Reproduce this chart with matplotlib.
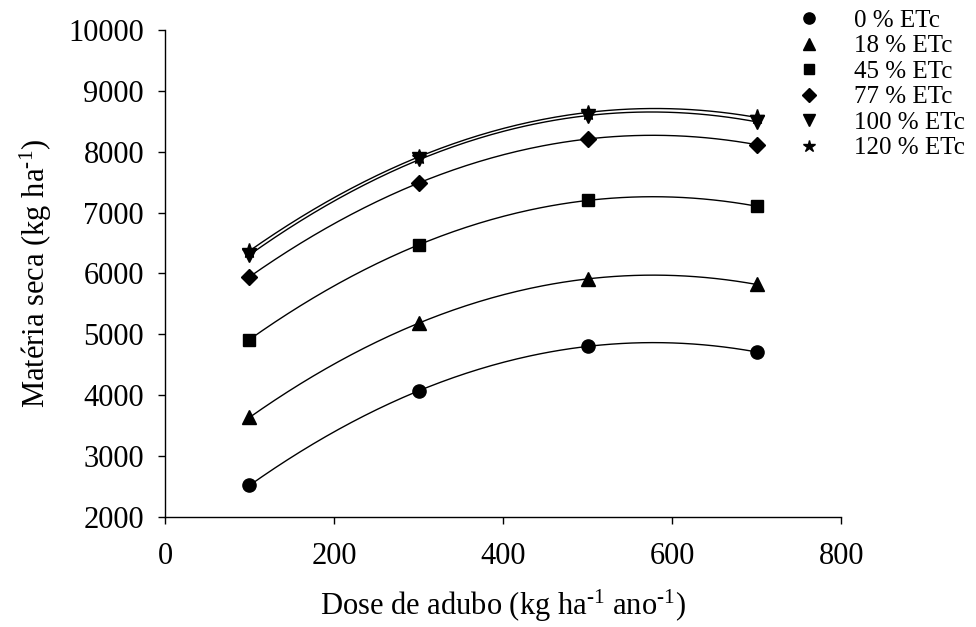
import matplotlib
matplotlib.use("Agg")
import matplotlib.pyplot as plt
import numpy as np

# doses de adubo (kg ha-1 ano-1)
dose = [100, 300, 500, 700]

# materia seca (kg ha-1) por lamina de irrigacao
ms_0 = [2520, 4070, 4805, 4710]
ms_18 = [3635, 5185, 5910, 5820]
ms_45 = [4915, 6470, 7200, 7105]
ms_77 = [5945, 7485, 8210, 8115]
ms_100 = [6300, 7880, 8580, 8495]
ms_120 = [6370, 7920, 8640, 8565]

labels = ["0 % ETc", "18 % ETc", "45 % ETc", "77 % ETc", "100 % ETc", "120 % ETc"]
markers = ["o", "^", "s", "D", "v", "*"]
msizes = [9.5, 9.5, 8.5, 8.5, 9.5, 11]

series = [ms_0, ms_18, ms_45, ms_77, ms_100, ms_120]

plt.rcParams["font.family"] = ["Liberation Serif", "DejaVu Serif"]
plt.rcParams["mathtext.fontset"] = "custom"
plt.rcParams["mathtext.rm"] = "Liberation Serif"
plt.rcParams["mathtext.it"] = "Liberation Serif"

fig = plt.figure(figsize=(9.76, 6.27), dpi=100)
ax = fig.add_axes([0.169, 0.1754, 0.693, 0.7768])

xs = np.linspace(min(dose), max(dose), 200)
for y, lab, mk, ms in zip(series, labels, markers, msizes):
    # ajuste quadratico (regressao) para desenhar a curva
    c = np.polyfit(dose, y, 2)
    ax.plot(xs, np.polyval(c, xs), color="k", lw=1.0, zorder=2)
    ax.plot(dose, y, ls="none", marker=mk, ms=ms, color="k", label=lab, zorder=3)

ax.set_xlim(0, 800)
ax.set_ylim(2000, 10000)
ax.set_xticks([0, 200, 400, 600, 800])
ax.set_yticks(range(2000, 10001, 1000))
ax.spines["top"].set_visible(False)
ax.spines["right"].set_visible(False)
for s in ["left", "bottom"]:
    ax.spines[s].set_linewidth(1)
ax.tick_params(direction="out", length=5, width=1, labelsize=22)
ax.tick_params(axis="y", pad=10)
ax.tick_params(axis="x", pad=13)

ax.set_xlabel(r"Dose de adubo (kg ha$^{\text{-1}}$ ano$^{\text{-1}}$)", fontsize=22, labelpad=12)
ax.set_ylabel(r"Matéria seca (kg ha$^{\text{-1}}$)", fontsize=22, labelpad=10)

fig.legend(loc="upper left", bbox_to_anchor=(0.816, 0.985), frameon=False,
           fontsize=18, handletextpad=1.3, labelspacing=0.12, handlelength=1.0,
           borderaxespad=0, borderpad=0, markerscale=0.85)

plt.savefig("out.png", dpi=100)
